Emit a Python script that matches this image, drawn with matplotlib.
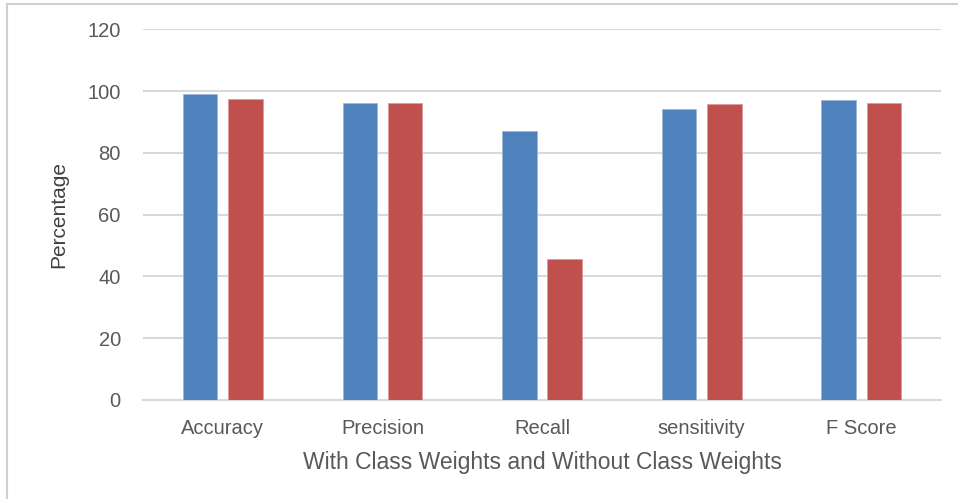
import numpy as np
import matplotlib
matplotlib.use("Agg")
import matplotlib.pyplot as plt
from matplotlib.patches import Rectangle

categories = ["Accuracy", "Precision", "Recall", "sensitivity", "F Score"]
with_weights = [99.0, 96.2, 87.2, 94.1, 97.1]
without_weights = [97.4, 96.2, 45.6, 95.9, 96.2]
yticks = [0, 20, 40, 60, 80, 100, 120]

BLUE, RED, GRID, TXT = "#4F81BD", "#C0504D", "#D9D9D9", "#595959"
plt.rcParams["font.family"] = ["Liberation Sans", "DejaVu Sans"]

fig = plt.figure(figsize=(9.58, 4.99), dpi=100)
fig.patches.append(Rectangle((0.007, -0.1), 1.1, 1.092, transform=fig.transFigure,
                             fill=False, edgecolor="#D0D0D0", lw=1.5))
ax = fig.add_axes([0.1493, 0.1984, 0.8330, 0.7425])

x = np.arange(len(categories))
w = 0.216
ax.bar(x - 0.142, with_weights, w, color=BLUE, edgecolor="#9DB7DC", lw=0.6, zorder=3)
ax.bar(x + 0.142, without_weights, w, color=RED, edgecolor="#E09A98", lw=0.6, zorder=3)

ax.set_xlim(-0.5, len(categories) - 0.5)
ax.set_ylim(0, 120)
ax.set_yticks(yticks)
ax.set_xticks(x, categories)
ax.yaxis.grid(True, color=GRID, lw=1.5, zorder=0)
ax.set_axisbelow(True)
for s in ("top", "right", "left"):
    ax.spines[s].set_visible(False)
ax.spines["bottom"].set_color(GRID)
ax.spines["bottom"].set_linewidth(1.5)
ax.tick_params(axis="x", length=0, labelsize=14.5, colors=TXT, pad=14)
ax.tick_params(axis="y", length=0, labelsize=14.5, colors=TXT, pad=16)
ax.set_ylabel("Percentage", fontsize=15, color="#404040", labelpad=14)
ax.set_xlabel("With Class Weights and Without Class Weights", fontsize=16.5, color=TXT, labelpad=9)

fig.savefig("out.png", dpi=100)
